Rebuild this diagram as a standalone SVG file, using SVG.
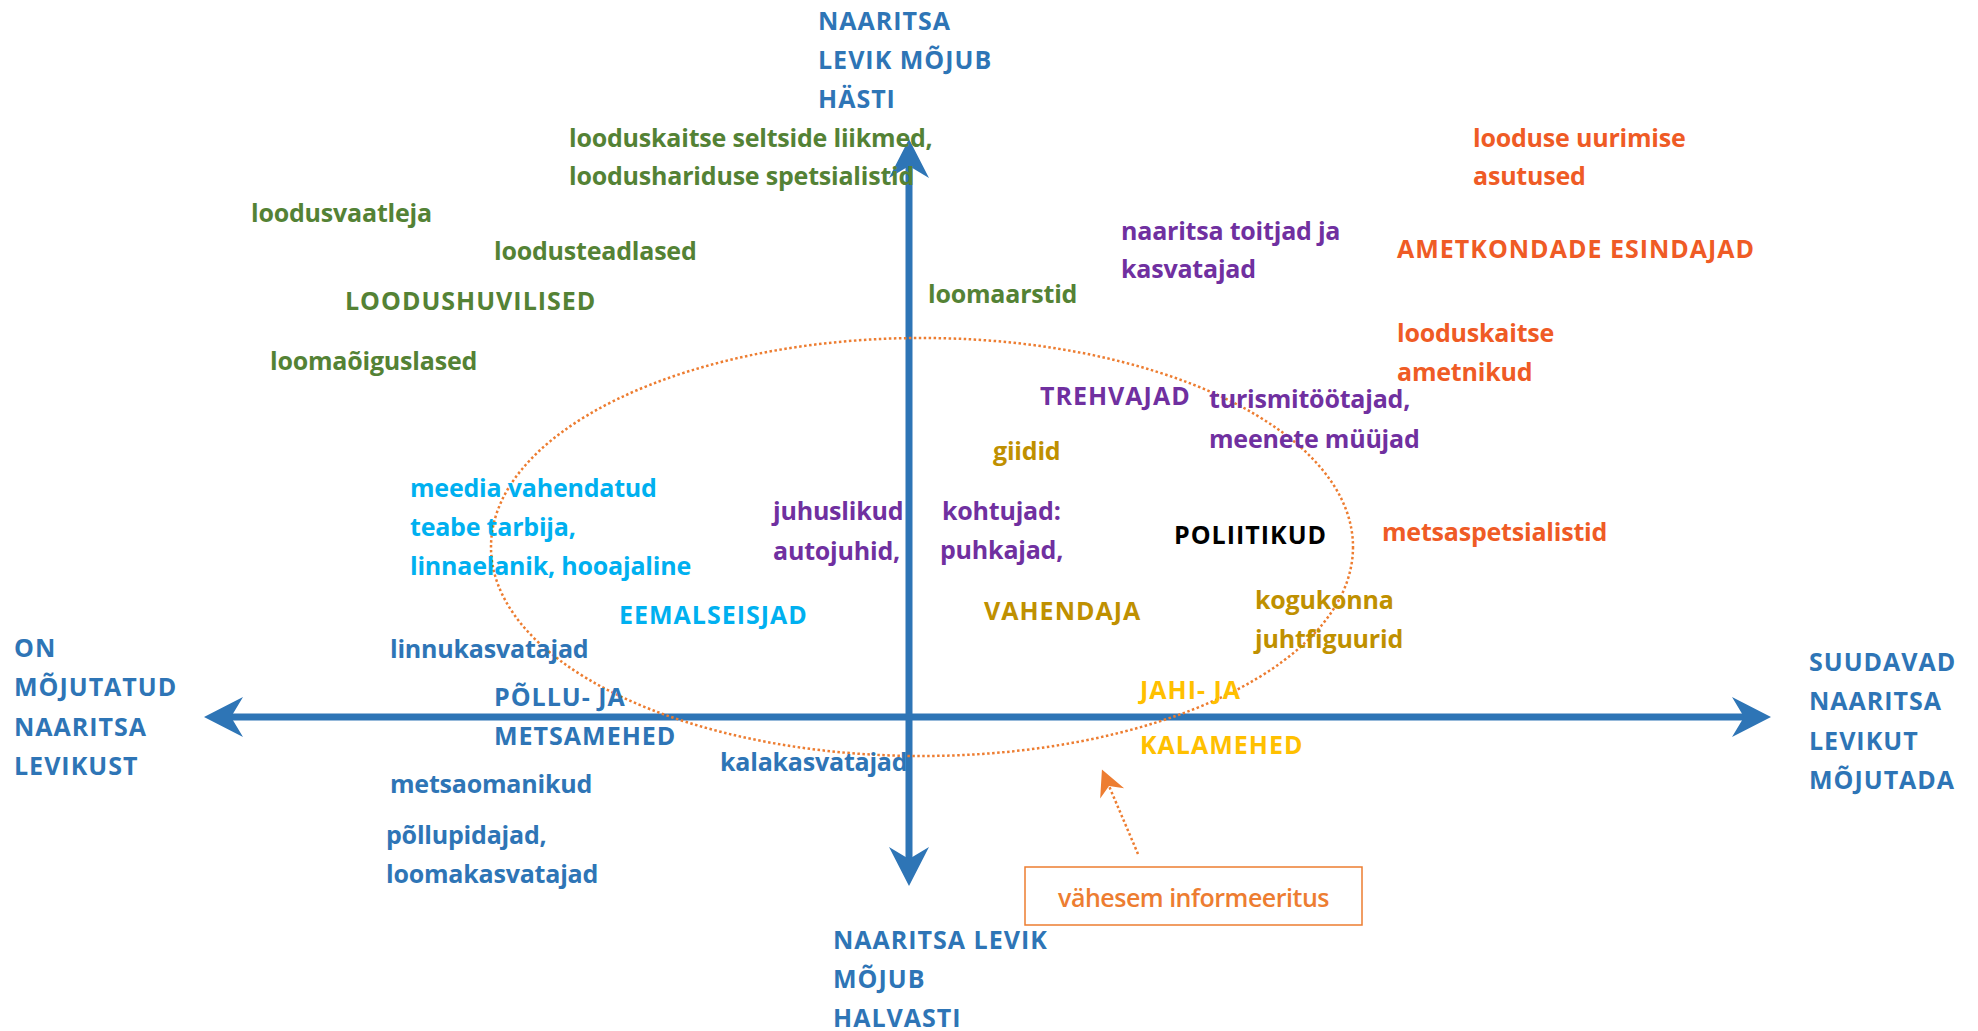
<svg xmlns="http://www.w3.org/2000/svg" width="1978" height="1031" viewBox="0 0 1978 1031">
<style>
text{font-family:"Open Sans","Noto Sans","DejaVu Sans",sans-serif;font-weight:700;font-size:25px;letter-spacing:-0.2px}
.caps{letter-spacing:1px}
.blue{fill:#2E75B6}.green{fill:#548235}.red{fill:#EF5B25}.purple{fill:#7030A0}
.cyan{fill:#00B0F0}.gold{fill:#BF9000}.yellow{fill:#FFC000}.black{fill:#000}
.orange{fill:#ED7D31;font-weight:600;letter-spacing:-0.5px}
.axis{stroke:#2E75B6;stroke-width:7;fill:none}
.dots{stroke:#ED7D31;stroke-width:2.5;fill:none;stroke-dasharray:2.5 2.5}
</style>
<defs>
<marker id="ah" markerUnits="userSpaceOnUse" markerWidth="60" markerHeight="60" viewBox="-20 -30 60 60" refX="0" refY="0" orient="auto-start-reverse" overflow="visible">
<path d="M0,0 L-12,-20 L27,0 L-12,20 Z" fill="#2E75B6"/>
</marker>
<marker id="oh" markerUnits="userSpaceOnUse" markerWidth="40" markerHeight="40" viewBox="-20 -20 40 40" refX="0" refY="0" orient="auto" overflow="visible">
<path d="M0,0 L-8,-13 L18,0 L-8,13 Z" fill="#ED7D31"/>
</marker>
</defs>
<rect width="1978" height="1031" fill="#fff"/>
<g id="connectors">
<line class="axis" x1="231" y1="717" x2="1744" y2="717" marker-start="url(#ah)" marker-end="url(#ah)"/>
<line class="axis" x1="909" y1="166" x2="909" y2="859" marker-start="url(#ah)" marker-end="url(#ah)"/>
<line class="dots" x1="1138" y1="854" x2="1109" y2="786" marker-end="url(#oh)"/>
</g>
<g id="ellipse-less-informed"><ellipse class="dots" cx="922" cy="547" rx="431" ry="209"/></g>
<g id="axis-top"><text class="blue caps"><tspan x="818" y="30">NAARITSA</tspan><tspan x="818" y="69">LEVIK MÕJUB</tspan><tspan x="818" y="108">HÄSTI</tspan></text></g>
<g id="axis-left"><text class="blue caps"><tspan x="14" y="657">ON</tspan><tspan x="14" y="696">MÕJUTATUD</tspan><tspan x="14" y="736">NAARITSA</tspan><tspan x="14" y="775">LEVIKUST</tspan></text></g>
<g id="axis-right"><text class="blue caps"><tspan x="1809" y="671">SUUDAVAD</tspan><tspan x="1809" y="710">NAARITSA</tspan><tspan x="1809" y="750">LEVIKUT</tspan><tspan x="1809" y="789">MÕJUTADA</tspan></text></g>
<g id="axis-bottom"><text class="blue caps"><tspan x="833" y="949">NAARITSA LEVIK</tspan><tspan x="833" y="988">MÕJUB</tspan><tspan x="833" y="1027">HALVASTI</tspan></text></g>
<g id="looduskaitse-seltsid"><text class="green"><tspan x="569" y="147">looduskaitse seltside liikmed,</tspan><tspan x="569" y="185">loodushariduse spetsialistid</tspan></text></g>
<g id="loodusvaatleja"><text class="green" x="251" y="222">loodusvaatleja</text></g>
<g id="loodusteadlased"><text class="green" x="494" y="260">loodusteadlased</text></g>
<g id="loodushuvilised"><text class="green caps" x="345" y="310">LOODUSHUVILISED</text></g>
<g id="loomaoiguslased"><text class="green" x="270" y="370">loomaõiguslased</text></g>
<g id="loomaarstid"><text class="green" x="928" y="303">loomaarstid</text></g>
<g id="looduse-uurimise"><text class="red"><tspan x="1473" y="147">looduse uurimise</tspan><tspan x="1473" y="185">asutused</tspan></text></g>
<g id="ametkondade-esindajad"><text class="red caps" x="1397" y="258">AMETKONDADE ESINDAJAD</text></g>
<g id="looduskaitse-ametnikud"><text class="red"><tspan x="1397" y="342">looduskaitse</tspan><tspan x="1397" y="381">ametnikud</tspan></text></g>
<g id="metsaspetsialistid"><text class="red" x="1382" y="541">metsaspetsialistid</text></g>
<g id="naaritsa-toitjad"><text class="purple"><tspan x="1121" y="240">naaritsa toitjad ja</tspan><tspan x="1121" y="278">kasvatajad</tspan></text></g>
<g id="trehvajad"><text class="purple caps" x="1040" y="405">TREHVAJAD</text></g>
<g id="turismitootajad"><text class="purple"><tspan x="1209" y="408">turismitöötajad,</tspan><tspan x="1209" y="448">meenete müüjad</tspan></text></g>
<g id="juhuslikud"><text class="purple"><tspan x="773" y="520">juhuslikud</tspan><tspan x="773" y="560">autojuhid,</tspan></text></g>
<g id="kohtujad"><text class="purple"><tspan x="942" y="520">kohtujad:</tspan><tspan x="940" y="559">puhkajad,</tspan></text></g>
<g id="giidid"><text class="gold" x="993" y="460">giidid</text></g>
<g id="vahendaja"><text class="gold caps" x="984" y="620">VAHENDAJA</text></g>
<g id="kogukonna"><text class="gold"><tspan x="1255" y="609">kogukonna</tspan><tspan x="1255" y="648">juhtfiguurid</tspan></text></g>
<g id="poliitikud"><text class="black caps" x="1174" y="544">POLIITIKUD</text></g>
<g id="jahimehed"><text class="yellow caps"><tspan x="1140" y="699">JAHI- JA</tspan><tspan x="1140" y="754">KALAMEHED</tspan></text></g>
<g id="meedia"><text class="cyan"><tspan x="410" y="497">meedia vahendatud</tspan><tspan x="410" y="536">teabe tarbija,</tspan><tspan x="410" y="575">linnaelanik, hooajaline</tspan></text></g>
<g id="eemalseisjad"><text class="cyan caps" x="619" y="624">EEMALSEISJAD</text></g>
<g id="linnukasvatajad"><text class="blue" x="390" y="658">linnukasvatajad</text></g>
<g id="pollumehed"><text class="blue caps"><tspan x="494" y="706">PÕLLU- JA</tspan><tspan x="494" y="745">METSAMEHED</tspan></text></g>
<g id="kalakasvatajad"><text class="blue" x="720" y="771">kalakasvatajad</text></g>
<g id="metsaomanikud"><text class="blue" x="390" y="793">metsaomanikud</text></g>
<g id="pollupidajad"><text class="blue"><tspan x="386" y="844">põllupidajad,</tspan><tspan x="386" y="883">loomakasvatajad</tspan></text></g>
<g id="vahesem-informeeritus"><rect x="1025" y="867" width="337" height="58" fill="none" stroke="#ED7D31" stroke-width="1.5"/><text class="orange" x="1193.5" y="907" text-anchor="middle">vähesem informeeritus</text></g>
</svg>
